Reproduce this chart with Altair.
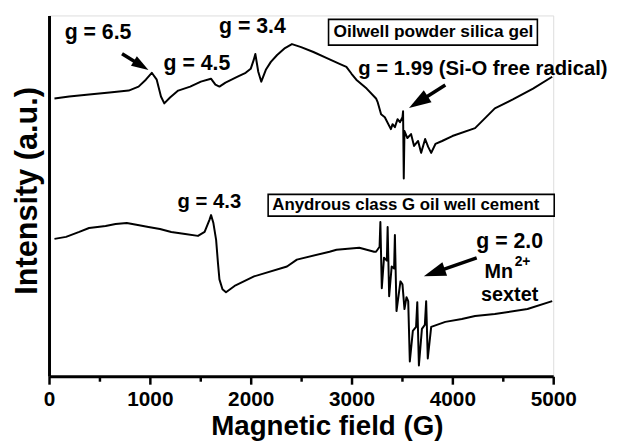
import math
import altair as alt
import pandas as pd

# ---- data ----
silica_field = [54, 200, 397, 600, 790, 888, 960, 1019, 1068, 1110, 1143, 1200, 1281, 1400, 1506,
                1606, 1650, 1690, 1750, 1870, 1950, 2000, 2030, 2046, 2075, 2105, 2150, 2200, 2262,
                2340, 2409, 2500, 2622, 2750, 2881, 2949, 3000, 3047, 3150, 3243, 3260, 3293, 3330,
                3390, 3407, 3430, 3456, 3480, 3505, 3511, 3518, 3525, 3554, 3590, 3620, 3660, 3690,
                3730, 3760, 3790, 3832, 3898, 4000, 4225, 4421, 4600, 4800, 4990]
silica_int = [281, 283, 285, 287, 289, 293, 300, 307, 300, 283, 276, 282, 289, 293, 298,
              301, 295, 293, 297, 303, 307, 311, 320, 326, 308, 298, 310, 318, 325,
              332, 336, 333, 328, 322, 316, 313, 306, 300, 291, 281, 277, 265, 262,
              250, 255, 252, 260, 257, 262, 268, 200, 248, 241, 245, 233, 238, 226,
              240, 232, 226, 235, 238, 243, 251, 271, 280, 291, 303]

cement_field = [54, 169, 300, 397, 480, 561, 660, 771, 880, 986, 1100, 1212, 1350, 1477, 1543, 1590,
                1607, 1630, 1657, 1675, 1690, 1720, 1755, 1850, 2033, 2360, 2458, 2782, 2851, 3077,
                3224, 3243, 3278, 3286, 3300, 3322, 3350, 3358, 3373, 3398, 3422, 3430, 3446, 3485,
                3505, 3525, 3545, 3562, 3578, 3608, 3640, 3652, 3668, 3698, 3727, 3740, 3756, 3790,
                3930, 4094, 4225, 4421, 4745, 4990]
cement_int = [139, 141, 146, 150, 151, 152, 154, 155, 153, 151, 149, 146, 144, 142, 146, 158,
              163, 155, 138, 115, 98, 88, 85, 92, 101, 111, 118, 126, 128, 130,
              126, 126, 131, 156, 89, 120, 117, 151, 81, 111, 109, 143, 66, 96,
              93, 68, 80, 76, 15, 46, 50, 75, 11, 48, 52, 76, 18, 50,
              55, 58, 61, 63, 68, 76]

x_tick_values = list(range(0, 5001, 500))

# annotations
label_text = ["g = 6.5", "g = 4.5", "g = 3.4", "g = 4.3", "g = 2.0", "Mn", "sextet"]
label_x = [486, 1467, 2017, 1590, 4568, 4460, 4568]
label_y = [347, 316, 353, 176.5, 136, 105, 82]
label_size = [21.5, 21.5, 21.5, 20.5, 21.5, 20, 20]

sup_text = ["2+"]
sup_x = [4696]
sup_y = [116]

radical_text = ["g = 1.99 (Si-O free radical)"]
radical_x = [3067]
radical_y = [311]

box_text = ["Oilwell powder silica gel", "Anydrous class G oil well cement"]
box_x1 = [2772, 2173]
box_x2 = [4843, 5010]
box_y1 = [335, 162]
box_y2 = [361, 184]
box_cx = [3812, 3538]
box_cy = [348, 173]
box_size = [17.5, 17]

arrow_tail_x = [724, 3930, 4241]
arrow_tail_y = [326.3, 294.7, 119.7]
arrow_tip_x = [986, 3570, 3717]
arrow_tip_y = [309.7, 271.3, 101.3]
arrow_head = [300, 500, 500]

W, H = 510, 365
XMAX, YMAX = 5000, 365
kx, ky = W / XMAX, H / YMAX

silica = pd.DataFrame({"field": silica_field, "intensity": silica_int})
cement = pd.DataFrame({"field": cement_field, "intensity": cement_int})

arrows = []
for tx, ty, px, py, hs in zip(arrow_tail_x, arrow_tail_y, arrow_tip_x, arrow_tip_y, arrow_head):
    dxp = (px - tx) * kx
    dyp = (py - ty) * ky
    L = math.hypot(dxp, dyp)
    ang = math.degrees(math.atan2(dxp, dyp)) % 360
    back = 0.7 * math.sqrt(hs)
    ex = px - dxp / L * back / kx
    ey = py - dyp / L * back / ky
    arrows.append({"tx": tx, "ty": ty, "ex": ex, "ey": ey, "px": px, "py": py,
                   "ang": ang, "hs": hs})
arrows = pd.DataFrame(arrows)

labels = pd.DataFrame({"t": label_text, "x": label_x, "y": label_y, "s": label_size})
sup = pd.DataFrame({"t": sup_text, "x": sup_x, "y": sup_y})
radical = pd.DataFrame({"t": radical_text, "x": radical_x, "y": radical_y})
boxes = pd.DataFrame({"t": box_text, "x1": box_x1, "x2": box_x2, "y1": box_y1, "y2": box_y2,
                      "cx": box_cx, "cy": box_cy, "s": box_size})

FONT = "Liberation Sans"

xscale = alt.Scale(domain=[0, XMAX], nice=False, zero=False)
yscale = alt.Scale(domain=[0, YMAX], nice=False, zero=False)

x_axis = alt.Axis(
    values=x_tick_values, format="d",
    labelExpr="datum.value % 1000 === 0 ? datum.label : ''",
    title="Magnetic field (G)", titleFont=FONT,
    titleFontSize=28, titleFontWeight="bold", titleColor="black",
    titleX=281, titleY=37, titleBaseline="top",
    labelFont=FONT, labelFontSize=21, labelFontWeight="bold", labelColor="black",
    labelPadding=5, labelFlush=False, labelOverlap=False,
    domainColor="black", domainWidth=3, tickColor="black", tickWidth=2.5,
    tickSize={"condition": {"test": "datum.value % 1000 === 0", "value": 8}, "value": 5},
    grid=False)
y_axis = alt.Axis(
    title="Intensity (a.u.)", titleFont=FONT, titleFontSize=31,
    titleFontWeight="bold", titleColor="black", titlePadding=6, titleY=177,
    labels=False, ticks=False, domainColor="black", domainWidth=3, grid=False)

base_x = alt.X("field:Q", scale=xscale, axis=x_axis)
base_y = alt.Y("intensity:Q", scale=yscale, axis=y_axis)

silica_line = alt.Chart(silica).mark_line(color="black", strokeWidth=2, strokeJoin="round").encode(
    x=base_x, y=base_y, order="field:Q")
cement_line = alt.Chart(cement).mark_line(color="black", strokeWidth=2, strokeJoin="round").encode(
    x=alt.X("field:Q", scale=xscale), y=alt.Y("intensity:Q", scale=yscale), order="field:Q")

box_rects = alt.Chart(boxes).mark_rect(fill="white", stroke="black", strokeWidth=1.6).encode(
    x=alt.X("x1:Q", scale=xscale), x2="x2:Q", y=alt.Y("y1:Q", scale=yscale), y2="y2:Q")
box_labels = alt.Chart(boxes).mark_text(font=FONT, fontWeight="bold", color="black",
                                        align="center", baseline="middle").encode(
    x=alt.X("cx:Q", scale=xscale), y=alt.Y("cy:Q", scale=yscale), text="t:N",
    size=alt.Size("s:Q", scale=None))

text_labels = alt.Chart(labels).mark_text(font=FONT, fontWeight="bold", color="black",
                                          align="center", baseline="middle").encode(
    x=alt.X("x:Q", scale=xscale), y=alt.Y("y:Q", scale=yscale), text="t:N",
    size=alt.Size("s:Q", scale=None))
sup_label = alt.Chart(sup).mark_text(font=FONT, fontWeight="bold", color="black", fontSize=14,
                                     align="center", baseline="middle").encode(
    x=alt.X("x:Q", scale=xscale), y=alt.Y("y:Q", scale=yscale), text="t:N")
radical_label = alt.Chart(radical).mark_text(font=FONT, fontWeight="bold", color="black",
                                             fontSize=20.5, align="left", baseline="middle").encode(
    x=alt.X("x:Q", scale=xscale), y=alt.Y("y:Q", scale=yscale), text="t:N")

arrow_lines = alt.Chart(arrows).mark_rule(color="black", strokeWidth=3.5).encode(
    x=alt.X("tx:Q", scale=xscale), x2="ex:Q", y=alt.Y("ty:Q", scale=yscale), y2="ey:Q")
arrow_heads = alt.Chart(arrows).mark_point(
    shape="M0,0L0.65,2L-0.65,2Z", filled=True, color="black", opacity=1, strokeWidth=0).encode(
    x=alt.X("px:Q", scale=xscale), y=alt.Y("py:Q", scale=yscale),
    angle=alt.Angle("ang:Q", scale=None), size=alt.Size("hs:Q", scale=None))

chart = alt.layer(
    silica_line, cement_line, box_rects, box_labels, text_labels, sup_label, radical_label,
    arrow_lines, arrow_heads
).properties(
    width=W, height=H,
    autosize=alt.AutoSizeParams(type="none"),
    padding={"left": 41.5, "top": 5, "right": 62.5, "bottom": 67},
).configure_view(strokeWidth=0).configure(background="white")

chart.save("out.html", embed_options={"renderer": "svg", "actions": False})
